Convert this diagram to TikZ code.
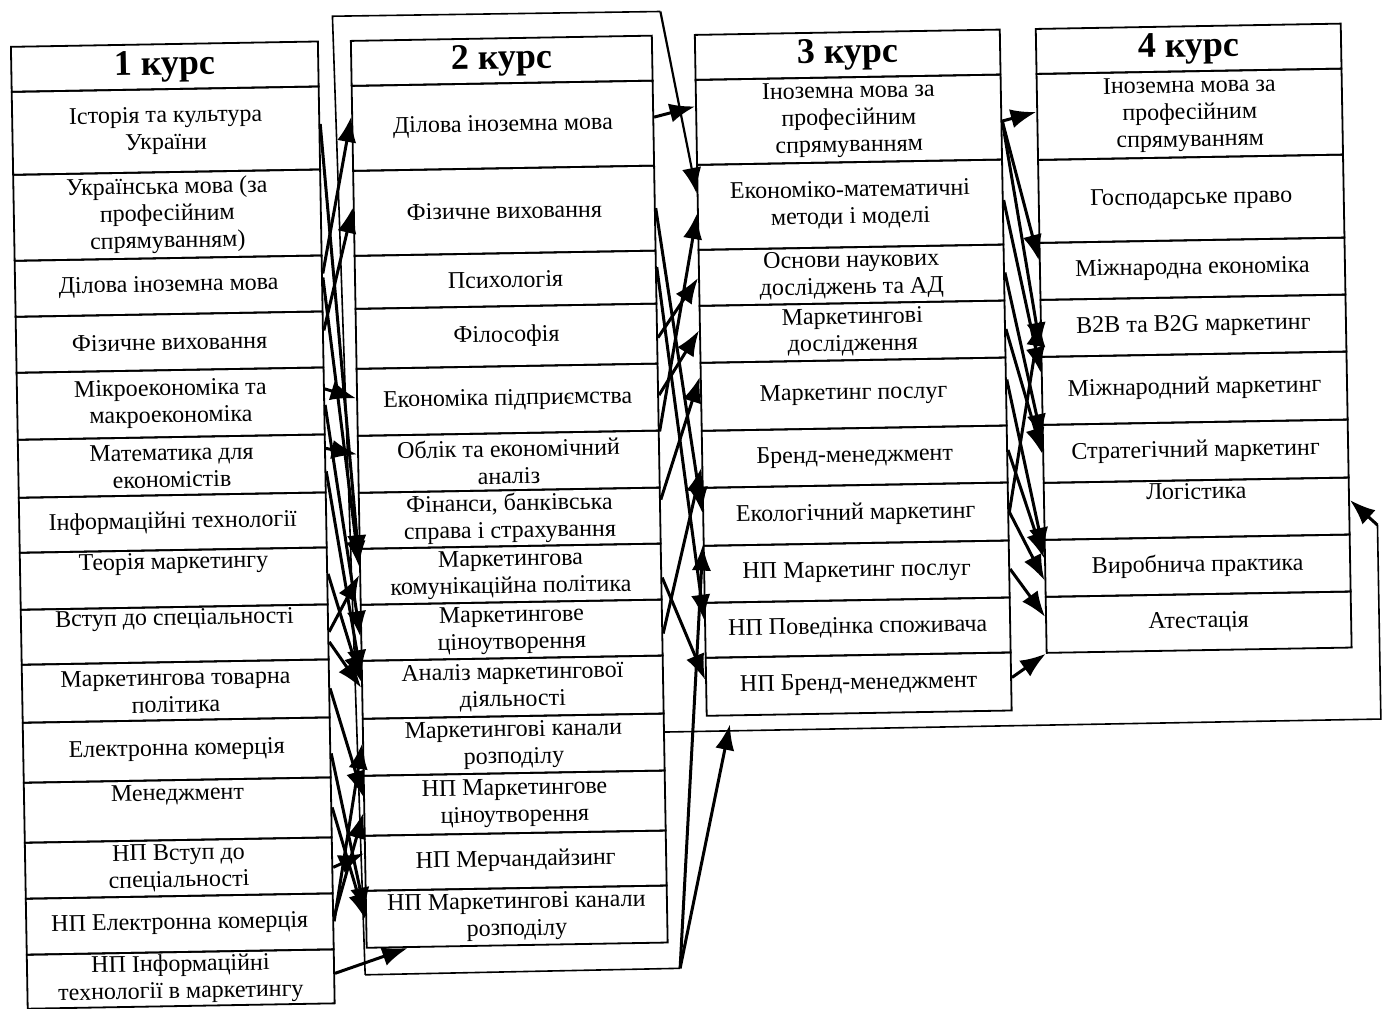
\documentclass[tikz,border=0pt]{standalone}
\usepackage{fontspec}
\setmainfont{Liberation Serif}
\usetikzlibrary{arrows.meta}

\begin{document}
\begin{tikzpicture}[x=0.5pt,y=-0.5pt]
        \tikzstyle{subj}=[draw=black,line width=0.9pt,align=center,inner sep=1pt,font=\fontsize{12}{13.5}\selectfont]
        \tikzstyle{coursehead}=[subj,minimum height=22.5pt,font=\fontsize{18}{20}\selectfont\bfseries]
        \tikzstyle{arr}=[-{Latex[length=8pt,width=6pt,scale=1.6]},line width=1.5pt]
        \tikzstyle{thinline}=[line width=0.8pt]
        \useasboundingbox (0,0) rectangle (1386,1008);
        \begin{scope}[rotate around={1:(693,504)},transform shape]
                \foreach \c/\x/\w in {1/172.5/153.5, 2/509.5/150.5, 3/855.5/152.5, 4/1196.5/152.5}
                        \node[coursehead,minimum width=\w pt] (k\c-0) at (\x,57.5) {\c{} курс};

                \foreach \n/\t/\b/\txt in {1/80/163/{Історія та культура\\України},
                                2/163/249/{Українська мова (за\\професійним\\спрямуванням)},
                                3/249/305/{Ділова іноземна мова}, 4/305/361/{Фізичне виховання},
                                5/361/428/{Мікроекономіка та\\макроекономіка}, 6/428/486/{Математика для\\економістів},
                                7/486/541/{Інформаційні технології}, 8/541/598/{Теорія маркетингу\\\strut},
                                9/598/653/{Вступ до спеціальності\\\strut}, 10/653/711/{Маркетингова товарна\\політика},
                                11/711/771/{Електронна комерція}, 12/771/831/{Менеджмент\\\strut},
                                13/831/887/{НП Вступ до\\спеціальності}, 14/887/943/{НП Електронна комерція},
                                15/943/997/{НП Інформаційні\\технології в маркетингу}}
                        \node[subj,minimum width=153.5pt,minimum height={(\b-\t)*0.5pt}] (k1-\n) at (172.5,{(\t+\b)/2}) {\txt};

                \foreach \n/\t/\b/\txt in {1/80/165/{Ділова іноземна мова}, 2/165/250/{Фізичне виховання},
                                3/250/303/{Психологія}, 4/303/363/{Філософія}, 5/363/430/{Економіка підприємства},
                                6/430/487/{Облік та економічний\\аналіз}, 7/487/543/{Фінанси, банківська\\справа і страхування},
                                8/543/599/{Маркетингова\\комунікаційна політика}, 9/599/655/{Маркетингове\\ціноутворення},
                                10/655/713/{Аналіз маркетингової\\діяльності}, 11/713/770/{Маркетингові канали\\розподілу},
                                12/770/830/{НП Маркетингове\\ціноутворення}, 13/830/885/{НП Мерчандайзинг},
                                14/885/942/{НП Маркетингові канали\\розподілу}}
                        \node[subj,minimum width=150.5pt,minimum height={(\b-\t)*0.5pt}] (k2-\n) at (509.5,{(\t+\b)/2}) {\txt};

                \foreach \n/\t/\b/\txt in {1/80/165/{Іноземна мова за\\професійним\\спрямуванням},
                                2/165/250/{Економіко-математичні\\методи і моделі}, 3/250/306/{Основи наукових\\досліджень та АД},
                                4/306/363/{Маркетингові\\дослідження}, 5/363/431/{Маркетинг послуг},
                                6/431/488/{Бренд-менеджмент}, 7/488/546/{Екологічний маркетинг},
                                8/546/603/{НП Маркетинг послуг}, 9/603/658/{НП Поведінка споживача},
                                10/658/716/{НП Бренд-менеджмент}}
                        \node[subj,minimum width=152.5pt,minimum height={(\b-\t)*0.5pt}] (k3-\n) at (855.5,{(\t+\b)/2}) {\txt};

                \foreach \n/\t/\b/\txt in {1/80/166/{Іноземна мова за\\професійним\\спрямуванням},
                                2/166/249/{Господарське право}, 3/249/306/{Міжнародна економіка},
                                4/306/363/{B2B та B2G маркетинг}, 5/363/431/{Міжнародний маркетинг},
                                6/431/489/{Стратегічний маркетинг}, 7/489/546/{Логістика\\\strut},
                                8/546/603/{Виробнича практика}, 9/603/659/{Атестація}}
                        \node[subj,minimum width=152.5pt,minimum height={(\b-\t)*0.5pt}] (k4-\n) at (1196.5,{(\t+\b)/2}) {\txt};

                \coordinate (fr-1) at (341,10);
                \coordinate (fr-2) at (669,11);
                \coordinate (fr-3) at (357,969);
                \coordinate (fr-4) at (672,968);
                \coordinate (rt-1) at (1377,731);
                \coordinate (rt-2) at (1377,537);

                \draw[arr] ([yshift=5pt]k1-3.east) -- ([yshift=6pt]k2-1.west);
                \draw[arr] ([yshift=4.5pt]k1-4.east) -- ([yshift=3pt]k2-2.west);
                \draw[arr] ([yshift=2pt]k1-1.east) -- ([yshift=8pt]k2-8.west);
                \draw[arr] ([yshift=3pt]k1-3.east) -- ([yshift=5pt]k2-8.west);
                \draw[arr] ([yshift=6pt]k1-5.east) -- ([yshift=2pt]k2-5.west);
                \draw[arr] ([yshift=7.5pt]k1-6.east) -- ([yshift=5pt]k2-6.west);
                \draw[arr] ([yshift=-2pt]k1-5.east) -- ([yshift=-2pt]k2-9.west);
                \draw[arr] ([yshift=-4pt]k1-6.east) -- ([yshift=7pt]k2-10.west);
                \draw[arr] (k1-9.east) -- ([yshift=1pt]k2-8.west);
                \draw[arr] ([yshift=1pt]k1-8.east) -- ([yshift=4pt]k2-10.west);
                \draw[arr] ([yshift=-5pt]k1-9.east) -- ([yshift=1pt]k2-10.west);
                \draw[arr] (k1-10.east) -- ([yshift=4.5pt]k2-12.west);
                \draw[arr] (k1-14.east) -- ([yshift=2pt]k2-11.west);
                \draw[arr] ([yshift=2pt]k1-14.east) -- ([yshift=-3.5pt]k2-12.west);
                \draw[arr] ([yshift=-1pt]k1-13.east) -- ([yshift=5pt]k2-13.west);
                \draw[arr] ([yshift=-3pt]k1-11.east) -- ([yshift=3pt]k2-14.west);
                \draw[arr] (k1-12.east) -- (k2-14.west);
                \draw[arr] ([yshift=1.5pt]k1-15.east) -- ([xshift=21pt]k2-14.south west);

                \draw[thinline] (fr-3) -- (fr-1) -- (fr-2);
                \draw[arr,line width=1.1pt] (fr-2) -- ([yshift=7pt]k3-2.west);
                \draw[thinline] (fr-3) -- (fr-4);
                \draw[arr] (fr-4) -- (k3-8.north west);
                \draw[arr] (fr-4) -- ([xshift=12pt,yshift=-4pt]k3-10.south west);

                \draw[arr] ([yshift=3pt]k2-1.east) -- ([yshift=8pt]k3-1.west);
                \draw[arr] (k2-5.south east) -- ([yshift=-3pt]k3-2.west);
                \draw[arr] ([yshift=-2pt]k2-4.east) -- (k3-3.west);
                \draw[arr] ([yshift=1pt]k2-5.east) -- ([yshift=2pt]k3-4.west);
                \draw[arr] ([yshift=8pt]k2-7.east) -- ([yshift=10pt]k3-5.west);
                \draw[arr] (k2-2.east) -- ([yshift=2pt]k3-7.west);
                \draw[arr] ([yshift=5pt]k2-3.east) -- ([yshift=5pt]k3-9.west);
                \draw[arr] ([yshift=-3pt]k2-8.east) -- ([yshift=3.5pt]k3-10.west);
                \draw[arr] ([yshift=-3pt]k2-9.east) -- ([yshift=-4pt]k3-6.west);

                \draw[thinline] ([yshift=5pt]k2-11.east) -- (rt-1) -- (rt-2);
                \draw[arr] (rt-2) -- ([yshift=3pt]k4-7.east);

                \draw[arr] ([yshift=-2pt]k3-1.east) -- ([yshift=2.5pt]k4-1.west);
                \draw[arr] ([yshift=-2pt]k3-1.east) -- ([yshift=5.5pt]k4-3.west);
                \draw[arr] ([yshift=-2pt]k3-1.east) -- ([yshift=-10pt]k4-4.west);
                \draw[arr] ([yshift=1pt]k3-2.east) -- ([yshift=9pt]k4-5.west);
                \draw[arr] (k3-3.east) -- ([yshift=7pt]k4-6.west);
                \draw[arr] (k3-4.east) -- (k4-6.west);
                \draw[arr] ([yshift=6pt]k3-5.east) -- ([yshift=7.5pt]k4-8.west);
                \draw[arr] ([yshift=2pt]k3-6.east) -- ([yshift=5pt]k4-8.west);
                \draw[arr] (k3-7.east) -- ([yshift=-6pt]k4-8.west);
                \draw[arr] (k3-8.east) -- ([yshift=4pt]k4-9.west);
                \draw[arr] ([yshift=-1pt]k3-7.east) -- ([yshift=4pt]k4-4.west);
                \draw[arr] ([yshift=2pt]k3-10.east) -- (k4-9.south west);
        \end{scope}
\end{tikzpicture}
\end{document}
